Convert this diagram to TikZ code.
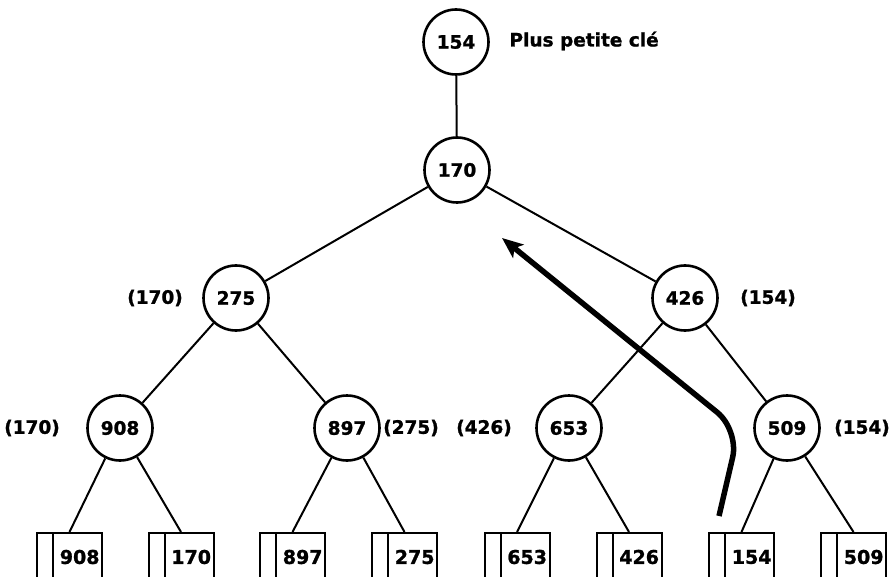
\documentclass[tikz,border=0pt]{standalone}
\usepackage{fontspec}
\setmainfont{DejaVu Sans}[BoldFeatures={FakeBold=1.2}]
\usetikzlibrary{arrows.meta}

\begin{document}
\begin{tikzpicture}[x=1pt,y=-1pt,
  key/.style={circle,draw,line width=2.6pt,minimum size=65pt,inner sep=0pt,
    font=\bfseries\fontsize{18.5}{18.5}\selectfont},
  leaf/.style={rectangle,draw,line width=2pt,minimum width=65pt,minimum height=48pt,
    inner sep=0pt,text width=60pt,align=right,anchor=north,
    font=\bfseries\fontsize{19}{19}\selectfont,
    path picture={\draw[line width=2pt]
      ([xshift=16pt]path picture bounding box.north west) --
      ([xshift=16pt]path picture bounding box.south west);}},
  tag/.style={font=\bfseries\fontsize{18.5}{18.5}\selectfont},
  edge/.style={line width=2pt}]
 \useasboundingbox (0,0) rectangle (891,577);
 % the tree of keys
 \node[key] (top) at (456,42) {154};
 \node[tag,anchor=west] (cap) at (506,41) {Plus petite clé};
 \node[key] (win) at (457,170) {170};
 \node[key] (l) at (236,298) {275};
 \node[key] (r) at (685,298) {426};
 \node[key] (ll) at (120,428) {908};
 \node[key] (lr) at (347,428) {897};
 \node[key] (rl) at (569,428) {653};
 \node[key] (rr) at (787,428) {509};
 % the losers
 \node[tag] (tl) at (155,298) {(170)};
 \node[tag] (tr) at (768,298) {(154)};
 \node[tag] (tll) at (32,428) {(170)};
 \node[tag] (tlr) at (411,428) {(275)};
 \node[tag] (trl) at (484,428) {(426)};
 \node[tag] (trr) at (862,428) {(154)};
 % the runs
 \node[leaf] (f1) at (69.5,532) {908};
 \node[leaf] (f2) at (181,532) {170};
 \node[leaf] (f3) at (292.5,532) {897};
 \node[leaf] (f4) at (404.5,532) {275};
 \node[leaf] (f5) at (517,532) {653};
 \node[leaf] (f6) at (629,532) {426};
 \node[leaf] (f7) at (741.5,532) {154};
 \node[leaf] (f8) at (853.5,532) {509};
 \draw[edge] (top) -- (win);
 \draw[edge] (win) -- (l);
 \draw[edge] (win) -- (r);
 \draw[edge] (l) -- (ll);
 \draw[edge] (l) -- (lr);
 \draw[edge] (r) -- (rl);
 \draw[edge] (r) -- (rr);
 \draw[edge] (ll) -- (f1.north);
 \draw[edge] (ll) -- (f2.north);
 \draw[edge] (lr) -- (f3.north);
 \draw[edge] (lr) -- (f4.north);
 \draw[edge] (rl) -- (f5.north);
 \draw[edge] (rl) -- (f6.north);
 \draw[edge] (rr) -- (f7.north);
 \draw[edge] (rr) -- (f8.north);
 % path of the new key
 \coordinate (a0) at (719,516);
 \coordinate (a1) at (739,430);
 \coordinate (a2) at (502,238);
 \draw[line width=5.5pt,rounded corners=28pt,
   -{Stealth[length=21pt,width=17pt,inset=5pt]}] (a0) -- (a1) -- (a2);
\end{tikzpicture}
\end{document}
